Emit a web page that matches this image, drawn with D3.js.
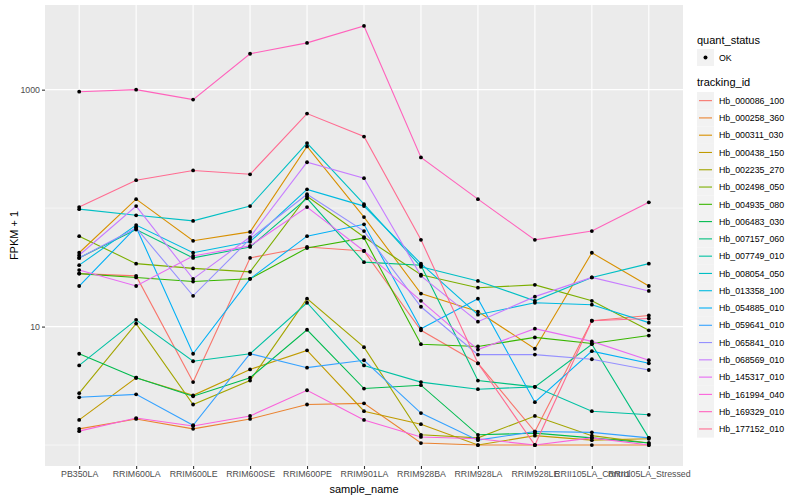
<!DOCTYPE html>
<html>
<head>
<meta charset="utf-8">
<script src="https://cdn.jsdelivr.net/npm/d3@7"></script>
<style>
  body { margin: 0; background: #fff; }
  svg text { font-family: "Liberation Sans", Arial, sans-serif; }
</style>
</head>
<body>
<svg id="chart" width="800" height="500"></svg>
<script>
// campioni sull'asse x
const samples = ["PB350LA", "RRIM600LA", "RRIM600LE", "RRIM600SE", "RRIM600PE", "RRIM901LA",
  "RRIM928BA", "RRIM928LA", "RRIM928LE", "RRII105LA_Control", "RRII105LA_Stressed"];

const trackingIds = ["Hb_000086_100", "Hb_000258_360", "Hb_000311_030", "Hb_000438_150", "Hb_002235_270",
  "Hb_002498_050", "Hb_004935_080", "Hb_006483_030", "Hb_007157_060", "Hb_007749_010",
  "Hb_008054_050", "Hb_013358_100", "Hb_054885_010", "Hb_059641_010", "Hb_065841_010",
  "Hb_068569_010", "Hb_145317_010", "Hb_161994_040", "Hb_169329_010", "Hb_177152_010"];

// palette hue di ggplot (20 livelli)
const palette = ["#F8766D", "#EA8331", "#D89000", "#C09B00", "#A3A500", "#7CAE00", "#39B600", "#00BB4E",
  "#00BF7D", "#00C1A3", "#00BFC4", "#00BAE0", "#00B0F6", "#35A2FF", "#9590FF", "#C77CFF",
  "#E76BF3", "#FA62DB", "#FF62BC", "#FF6C91"];

// FPKM + 1, una riga per tracking_id, stesso ordine dei campioni
const fpkm = [
  [28, 26.8, 3.4, 38, 47, 43.5, 9.3, 4.9, 1.3, 11.2, 12.4],
  [1.37, 1.66, 1.37, 1.66, 2.2, 2.25, 1.04, 1, 1, 1, 1],
  [42, 119, 53, 63, 332, 84, 19, 13.4, 6.5, 42, 22],
  [1.63, 3.7, 2.63, 4.35, 6.3, 1.93, 1.5, 1, 1.2, 1.1, 1.13],
  [2.74, 10.6, 2.2, 3.5, 17.2, 6.7, 1.22, 1.15, 1.76, 1.2, 1.04],
  [58, 34, 31, 29, 126, 57, 27.4, 21.3, 22.5, 16.5, 9.3],
  [28, 26, 24, 25.3, 46, 56, 7.1, 6.8, 8.1, 7.2, 8.4],
  [5.9, 3.7, 2.58, 3.7, 9.4, 3.0, 3.2, 1.22, 1.26, 1.15, 1.04],
  [38, 66, 38, 47, 121, 35, 33, 3.5, 3.1, 7.1, 1.15],
  [4.7, 11.4, 5.1, 5.9, 15.9, 4.7, 3.4, 2.96, 3.1, 1.93, 1.8],
  [98, 87, 78, 104, 354, 108, 32, 24.3, 16.5, 26, 34],
  [33, 72, 42, 52, 144, 104, 34, 12.6, 15.9, 15.3, 10.8],
  [22, 69, 5.9, 25.3, 58, 73, 9.6, 17.2, 2.3, 6.2, 4.9],
  [2.53, 2.68, 1.47, 5.9, 4.5, 5.2, 1.86, 1.1, 1.3, 1.28, 1.15],
  [38, 68, 18.2, 55, 131, 64, 14.7, 5.8, 5.8, 5.3, 4.3],
  [40, 104, 25.3, 57, 244, 179, 26.8, 11, 17.9, 26, 20],
  [30, 22, 39.5, 48, 102, 43.5, 16.5, 6.4, 9.6, 7.5, 5.2],
  [1.31, 1.69, 1.45, 1.76, 2.9, 1.63, 1.17, 1.13, 1, 1.15, 1],
  [961, 1000, 824, 2009, 2483, 3450, 268, 119, 54, 64, 112],
  [102, 172, 208, 193, 628, 402, 54, 4.9, 1, 11.2, 11.7]
];

const yBreaks = [10, 1000];
const yMinor = [1, 100];

const svg = d3.select("#chart");
const panel = { left: 45, top: 5, right: 683, bottom: 466 };

const x = d3.scalePoint().domain(samples).range([panel.left, panel.right]).padding(0.6);
// scala log con espansione del 5% come ggplot
const lo = Math.log10(d3.min(fpkm.flat())), hi = Math.log10(d3.max(fpkm.flat()));
const pad = (hi - lo) * 0.05;
const y = d3.scaleLog().domain([Math.pow(10, lo - pad), Math.pow(10, hi + pad)]).range([panel.bottom, panel.top]);

const colors = d3.scaleOrdinal().domain(trackingIds).range(palette);

svg.append("rect").attr("x", panel.left).attr("y", panel.top)
  .attr("width", panel.right - panel.left).attr("height", panel.bottom - panel.top).attr("fill", "#EBEBEB");

const grid = svg.append("g");
yMinor.forEach((v) => {
  grid.append("line").attr("x1", panel.left).attr("x2", panel.right).attr("y1", y(v)).attr("y2", y(v))
    .attr("stroke", "#fff").attr("stroke-width", 0.55);
});
yBreaks.forEach((v) => {
  grid.append("line").attr("x1", panel.left).attr("x2", panel.right).attr("y1", y(v)).attr("y2", y(v))
    .attr("stroke", "#fff").attr("stroke-width", 1.1);
});
samples.forEach((s) => {
  grid.append("line").attr("x1", x(s)).attr("x2", x(s)).attr("y1", panel.top).attr("y2", panel.bottom)
    .attr("stroke", "#fff").attr("stroke-width", 1.1);
});

// linee e punti
const line = d3.line().x((d) => x(d.s)).y((d) => y(d.v));
const series = trackingIds.map((id, i) => ({ id, pts: samples.map((s, j) => ({ s, v: fpkm[i][j] })) }));

svg.append("g").selectAll("path").data(series).join("path")
  .attr("d", (d) => line(d.pts)).attr("fill", "none")
  .attr("stroke", (d) => colors(d.id)).attr("stroke-width", 1.1);

svg.append("g").selectAll("circle").data(series.flatMap((d) => d.pts)).join("circle")
  .attr("cx", (d) => x(d.s)).attr("cy", (d) => y(d.v)).attr("r", 1.9).attr("fill", "#000");

// assi
const yAxis = svg.append("g").attr("transform", `translate(${panel.left},0)`)
  .call(d3.axisLeft(y).tickValues(yBreaks).tickFormat(d3.format("d")).tickSize(3).tickPadding(2));
const xAxis = svg.append("g").attr("transform", `translate(0,${panel.bottom})`)
  .call(d3.axisBottom(x).tickSize(3).tickPadding(2));
[yAxis, xAxis].forEach((a) => {
  a.select(".domain").remove();
  a.selectAll(".tick line").attr("stroke", "#333").attr("stroke-width", 1.1);
  a.selectAll(".tick text").attr("fill", "#4D4D4D").attr("font-size", 8.8)
    .style("font-family", "Liberation Sans, Arial, sans-serif");
});

svg.append("text").attr("x", (panel.left + panel.right) / 2).attr("y", 493)
  .attr("text-anchor", "middle").attr("font-size", 11).text("sample_name");
svg.append("text").attr("transform", `translate(18,${(panel.top + panel.bottom) / 2}) rotate(-90)`)
  .attr("text-anchor", "middle").attr("font-size", 11).text("FPKM + 1");

// legenda
const lg = svg.append("g").attr("transform", "translate(697,0)");
lg.append("text").attr("x", 0).attr("y", 44).attr("font-size", 11).text("quant_status");
lg.append("rect").attr("x", 0).attr("y", 49).attr("width", 17).attr("height", 17).attr("fill", "#F2F2F2");
lg.append("circle").attr("cx", 8.5).attr("cy", 57.5).attr("r", 2).attr("fill", "#000");
lg.append("text").attr("x", 22).attr("y", 61).attr("font-size", 8.8).text("OK");

lg.append("text").attr("x", 0).attr("y", 86).attr("font-size", 11).text("tracking_id");
const keyH = 17.28;
const items = lg.selectAll("g.item").data(trackingIds).join("g").attr("class", "item")
  .attr("transform", (d, i) => `translate(0,${92 + i * keyH})`);
items.append("rect").attr("width", 17).attr("height", keyH).attr("fill", "#F2F2F2");
items.append("line").attr("x1", 2).attr("x2", 15).attr("y1", keyH / 2).attr("y2", keyH / 2)
  .attr("stroke", (d) => colors(d)).attr("stroke-width", 1.1);
items.append("text").attr("x", 22).attr("y", keyH / 2 + 3.2).attr("font-size", 8.8).text((d) => d);
</script>
</body>
</html>
